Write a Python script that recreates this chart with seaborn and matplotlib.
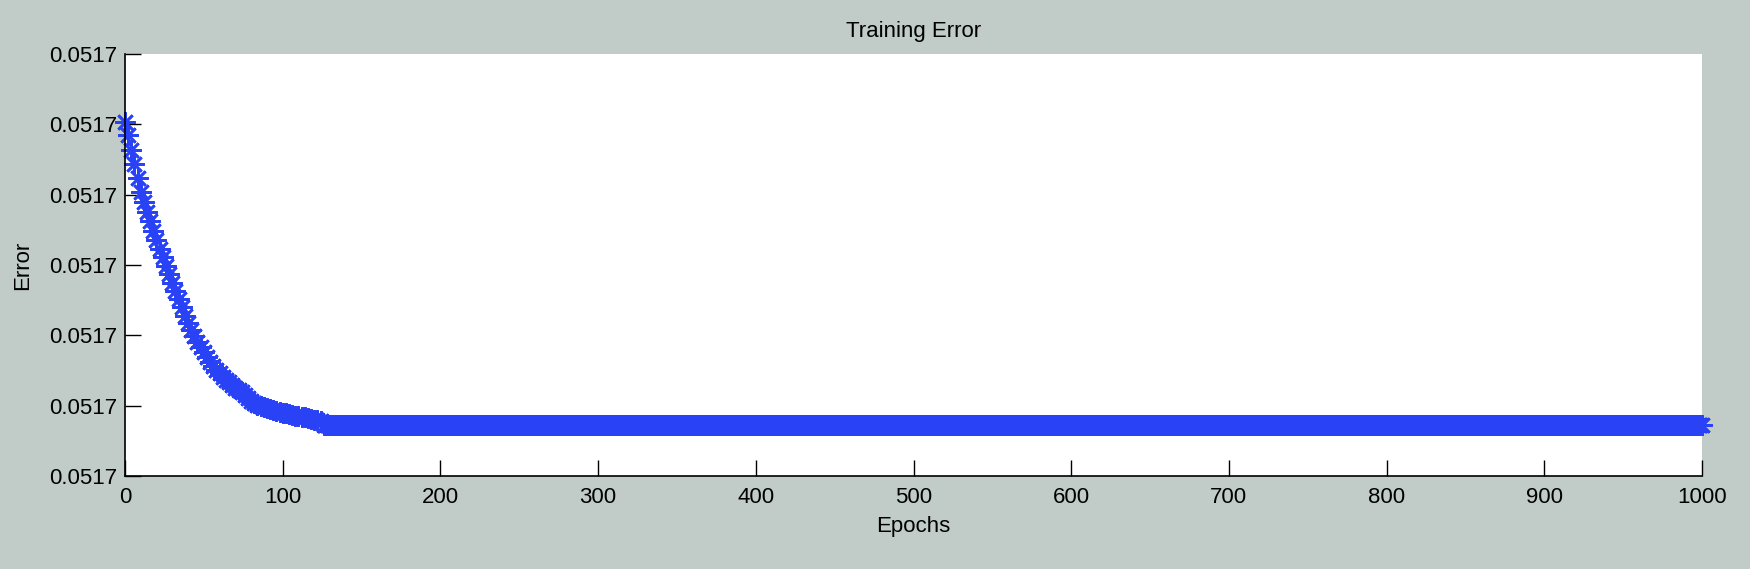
import matplotlib
matplotlib.use("Agg")
import matplotlib.pyplot as plt
import matplotlib.ticker as ticker
import numpy as np
import pandas as pd
import seaborn as sns

# training error, in units of 1e-6 above 0.0517
base_err = 0.0517
descent_epochs = list(range(0, 126, 2))
descent_e6 = [5.04, 4.85, 4.64, 4.43, 4.23, 4.04, 3.89, 3.75, 3.62, 3.48,
              3.35, 3.23, 3.11, 2.99, 2.87, 2.75, 2.63, 2.51, 2.40, 2.28,
              2.17, 2.08, 1.99, 1.91, 1.83, 1.76, 1.69, 1.62, 1.56, 1.51,
              1.46, 1.41, 1.37, 1.33, 1.29, 1.25, 1.22, 1.19, 1.15, 1.11,
              1.07, 1.04, 1.01, 0.995, 0.98, 0.97, 0.955, 0.94, 0.925, 0.91,
              0.90, 0.89, 0.88, 0.87, 0.86, 0.85, 0.84, 0.835, 0.825, 0.81,
              0.80, 0.79, 0.785]
# flat from ~epoch 126 on, one marker per epoch
plateau_epochs = list(range(126, 1001))
plateau_e6 = [0.73] * len(plateau_epochs)

x_ticks = list(range(0, 1001, 100))

df = pd.DataFrame({
    "epoch": descent_epochs + plateau_epochs,
    "error": [base_err + v * 1e-6 for v in descent_e6 + plateau_e6],
})

sns.set_style("ticks")
plt.rcParams['font.family'] = ['Liberation Sans', 'DejaVu Sans']
plt.rcParams['text.color'] = 'black'
plt.rcParams['axes.labelcolor'] = 'black'

bg = '#c1ccc9'
blue = '#2a42f5'

fig = plt.figure(figsize=(17.5, 5.69), dpi=100, facecolor=bg)
ax = fig.add_axes([0.0714, 0.1634, 0.9012, 0.7417])
ax.set_facecolor('white')

sns.lineplot(data=df, x="epoch", y="error", ax=ax, estimator=None, errorbar=None,
             linestyle='none', marker=(8, 2, 0), markersize=14.5,
             markeredgewidth=1.9, markeredgecolor=blue, color=blue, clip_on=False)

ax.set_xlim(0, 1000)
ax.set_xticks(x_ticks)
ax.set_ylim(base_err, base_err + 6e-6)
ax.set_yticks(np.linspace(base_err, base_err + 6e-6, 7))
ax.yaxis.set_major_formatter(ticker.FormatStrFormatter('%.4f'))

for side in ['top', 'right']:
    ax.spines[side].set_visible(False)
for side in ['left', 'bottom']:
    ax.spines[side].set_color('black')
    ax.spines[side].set_linewidth(1.2)

ax.tick_params(axis='both', direction='in', length=11.4, width=1.0,
               colors='black', labelsize=16)
ax.tick_params(axis='x', pad=8)
ax.tick_params(axis='y', pad=5.5)

ax.set_title("Training Error", fontsize=16, pad=12, color='black')
ax.set_xlabel("Epochs", fontsize=16)
ax.set_ylabel("Error", fontsize=16)
ax.xaxis.set_label_coords(0.5, -0.095)
ax.yaxis.set_label_coords(-0.058, 0.5)

fig.savefig("out.png", dpi=100, facecolor=bg)
